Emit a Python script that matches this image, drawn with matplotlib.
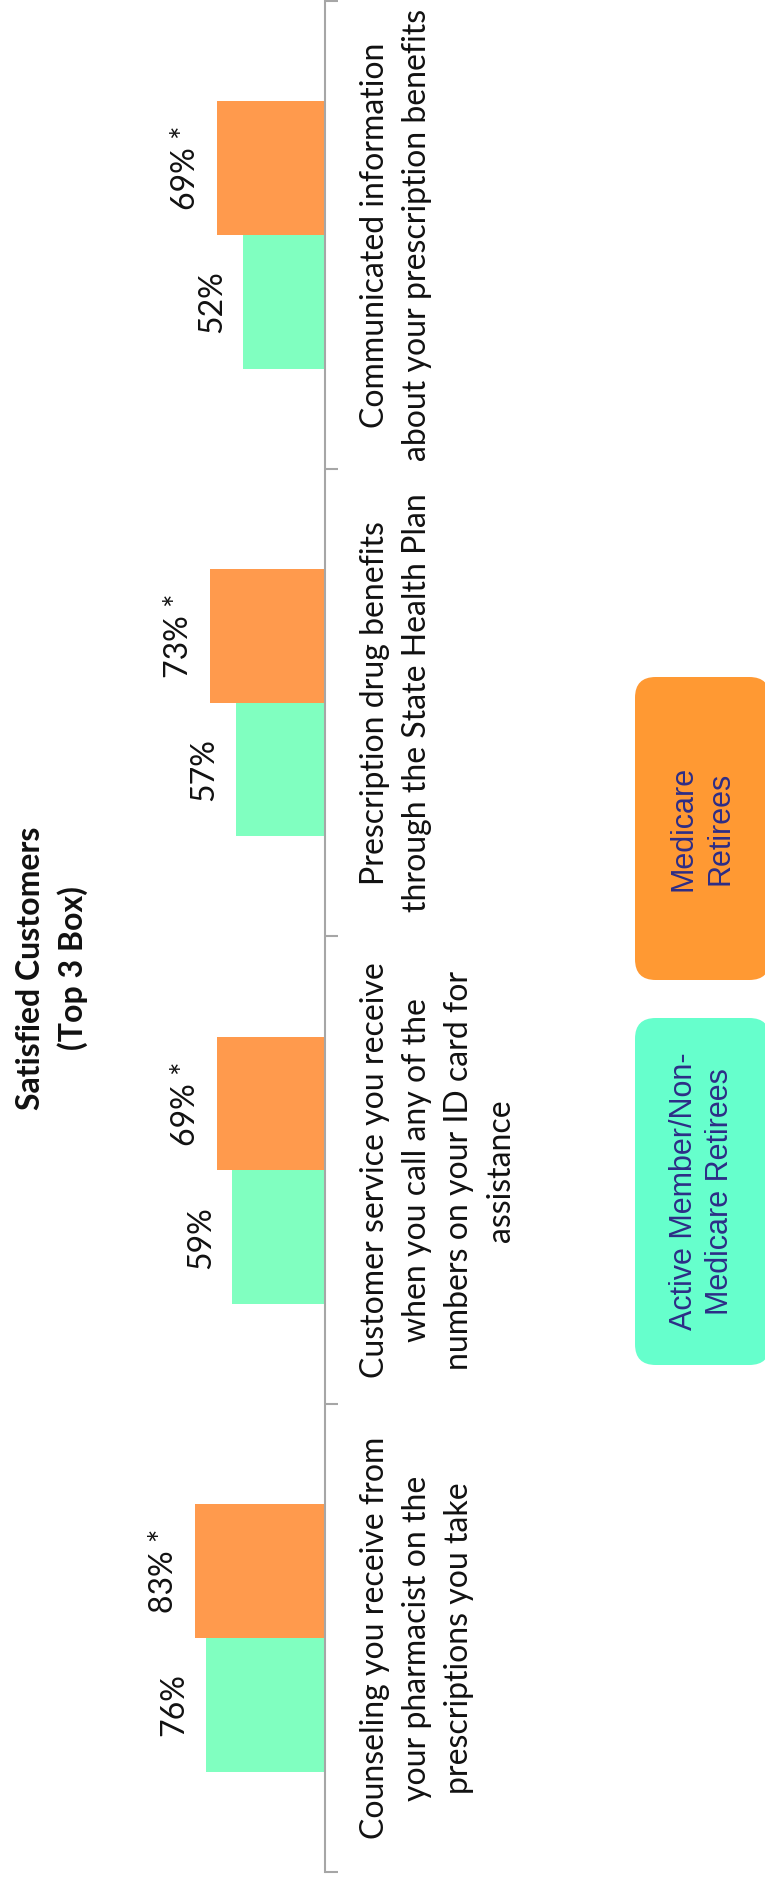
import numpy as np
import matplotlib
matplotlib.use("Agg")
from matplotlib import pyplot as plt
from matplotlib.patches import FancyBboxPatch

# survey items, bottom to top as drawn
categories = [
    "Counseling you receive from\nyour pharmacist on the\nprescriptions you take",
    "Customer service you receive\nwhen you call any of the\nnumbers on your ID card for\nassistance",
    "Prescription drug benefits\nthrough the State Health Plan",
    "Communicated information\nabout your prescription benefits",
]
active = [76, 59, 57, 52]
medicare = [83, 69, 73, 69]
significant = [True, True, True, True]

series_names = ["Active Member/Non-\nMedicare Retirees", "Medicare\nRetirees"]
bar_colors = ["#80FFC0", "#FF9A4D"]
box_colors = ["#66FFCC", "#FF9933"]

W, H = 765, 1878
TXT = "Lato"

def fx(x):
    return x / W

def fy(y):
    return 1 - y / H

fig = plt.figure(figsize=(W / 100, H / 100), dpi=100)
ax = fig.add_axes([0, fy(1872), fx(325), (1872 - 1) / H])

y = np.arange(len(categories))
bh = 0.286

ax.barh(y - bh / 2, active, height=bh, color=bar_colors[0], edgecolor="none")
ax.barh(y + bh / 2, medicare, height=bh, color=bar_colors[1], edgecolor="none")

ax.set_xlim(207, 0)
ax.set_ylim(-0.5, len(categories) - 0.5)

for i in range(len(categories)):
    ax.annotate(f"{active[i]}%", (active[i], y[i] - bh / 2), xytext=(-11.5, 0),
                textcoords="offset points", rotation=90, ha="right", va="center",
                fontsize=23, family=TXT, color="#111111")
    lab = f"{medicare[i]}%" + (" *" if significant[i] else "")
    ax.annotate(lab, (medicare[i], y[i] + bh / 2), xytext=(-11.5, 0),
                textcoords="offset points", rotation=90, ha="right", va="center",
                fontsize=23, family=TXT, color="#111111")
    # category text sits to the right of the axis
    ax.annotate(categories[i], (1, y[i]), xycoords=("axes fraction", "data"),
                xytext=(25, 0), textcoords="offset points", rotation=90,
                ha="left", va="center", multialignment="center",
                fontsize=23, family=TXT, color="#111111", linespacing=1.5)

for s in ["left", "top", "bottom"]:
    ax.spines[s].set_visible(False)
ax.spines["right"].set_color("#A6A6A6")
ax.spines["right"].set_linewidth(1.5)
ax.yaxis.tick_right()
ax.set_yticks(np.arange(-0.5, len(categories), 1.0))
ax.set_yticklabels([])
ax.tick_params(axis="y", direction="out", length=9, width=1.5, color="#A6A6A6")
ax.set_xticks([])

fig.text(fx(52), fy(968), "Satisfied Customers\n(Top 3 Box)", rotation=90,
         ha="center", va="center", multialignment="center", fontsize=23,
         fontweight="bold", family=TXT, color="#111111", linespacing=1.5)

# legend boxes
boxes = [(1018, 1365), (677, 980)]
for (top, bot), name, c in zip(boxes, series_names, box_colors):
    p = FancyBboxPatch((fx(635), fy(bot)), fx(135), (bot - top) / H,
                       boxstyle="round,pad=0,rounding_size=0.027",
                       transform=fig.transFigure, facecolor=c, edgecolor="none",
                       mutation_aspect=W / H)
    fig.patches.append(p)
    fig.text(fx(702), fy((top + bot) / 2), name, rotation=90, ha="center",
             va="center", multialignment="center", fontsize=22,
             family="Liberation Sans", color="#2D2D86", linespacing=1.3)

fig.savefig("out.png", dpi=100)
